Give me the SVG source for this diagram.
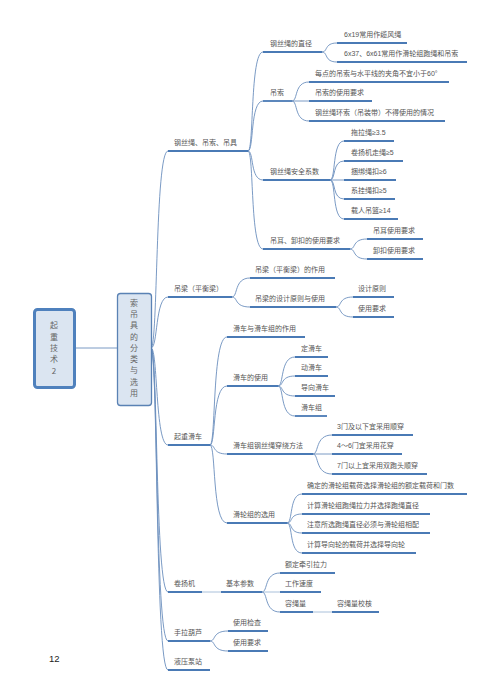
<svg xmlns="http://www.w3.org/2000/svg" width="500" height="697" viewBox="0 0 500 697">
<style>
.t{font-family:"Liberation Sans","Noto Sans CJK SC",sans-serif;font-size:7px;fill:#555}
.bt{font-family:"Noto Sans CJK SC",sans-serif;font-size:8px;fill:#666;text-anchor:middle}
.u{stroke:#4a7ab5;stroke-width:1.8;fill:none}
.c{stroke:#6b8fbd;stroke-width:0.9;fill:none}
.s{stroke:#a9c0da;stroke-width:1;fill:none}
</style>
<rect width="500" height="697" fill="#fff"/>
<g id="connectors">
<path class="c" d="M75,348 L117,348"/>
<path class="c" d="M151,348 C158,348 155,151 168,151"/>
<path class="c" d="M151,348 C158,348 155,297 168,297"/>
<path class="c" d="M151,348 C158,348 155,445 168,445"/>
<path class="c" d="M151,348 C158,348 155,592 168,592"/>
<path class="c" d="M151,348 C158,348 155,641 168,641"/>
<path class="c" d="M151,348 C158,348 155,670 168,670"/>
<path class="c" d="M248,151 C254,151 250,52 263,52"/>
<path class="c" d="M248,151 C254,151 250,101 263,101"/>
<path class="c" d="M248,151 C254,151 250,180 263,180"/>
<path class="c" d="M248,151 C254,151 250,249 263,249"/>
<path class="c" d="M322,52 C328,52 324,43 337,43"/>
<path class="c" d="M322,52 C328,52 324,62 337,62"/>
<path class="c" d="M292,101 C298,101 294,82 309,82"/>
<path class="c" d="M292,101 L309,101"/>
<path class="c" d="M292,101 C298,101 294,121 309,121"/>
<path class="c" d="M330,180 C336,180 332,141 344,141"/>
<path class="c" d="M330,180 C336,180 332,161 344,161"/>
<path class="c" d="M330,180 L344,180"/>
<path class="c" d="M330,180 C336,180 332,199 344,199"/>
<path class="c" d="M330,180 C336,180 332,219 344,219"/>
<path class="c" d="M350,249 C356,249 352,239 367,239"/>
<path class="c" d="M350,249 C356,249 352,259 367,259"/>
<path class="c" d="M232,297 C238,297 234,278 250,278"/>
<path class="c" d="M232,297 C238,297 234,307 250,307"/>
<path class="c" d="M336,307 C342,307 338,297 353,297"/>
<path class="c" d="M336,307 C342,307 338,317 353,317"/>
<path class="c" d="M210,445 C216,445 212,337 227,337"/>
<path class="c" d="M210,445 C216,445 212,386 227,386"/>
<path class="c" d="M210,445 C216,445 212,454 227,454"/>
<path class="c" d="M210,445 C216,445 212,523 227,523"/>
<path class="c" d="M278,386 C284,386 280,357 295,357"/>
<path class="c" d="M278,386 C284,386 280,376 295,376"/>
<path class="c" d="M278,386 C284,386 280,396 295,396"/>
<path class="c" d="M278,386 C284,386 280,416 295,416"/>
<path class="c" d="M313,454 C319,454 315,435 332,435"/>
<path class="c" d="M313,454 L332,454"/>
<path class="c" d="M313,454 C319,454 315,474 332,474"/>
<path class="c" d="M287,523 C293,523 289,494 302,494"/>
<path class="c" d="M287,523 C293,523 289,514 302,514"/>
<path class="c" d="M287,523 C293,523 289,533 302,533"/>
<path class="c" d="M287,523 C293,523 289,553 302,553"/>
<path class="s" d="M202,592 L221,592"/>
<path class="c" d="M262,592 C268,592 264,573 280,573"/>
<path class="s" d="M262,592 L280,592"/>
<path class="c" d="M262,592 C268,592 264,612 280,612"/>
<path class="s" d="M313,612 L332,612"/>
<path class="c" d="M210,641 C216,641 212,631 228,631"/>
<path class="c" d="M210,641 C216,641 212,651 228,651"/>
</g>
<g id="root">
<rect x="34.5" y="309.5" width="40" height="78" rx="3" fill="#dbe5f1" stroke="#4f81bd" stroke-width="3"/>
<text class="bt" x="54" y="328">起</text>
<text class="bt" x="54" y="340">重</text>
<text class="bt" x="54" y="351">技</text>
<text class="bt" x="54" y="362">术</text>
<text class="bt" x="54" y="374">2</text>
</g>
<g id="n-main">
<rect x="117.5" y="293.5" width="34" height="112" rx="3" fill="#dbe5f1" stroke="#5a82b4" stroke-width="1.3"/>
<text class="bt" x="134" y="306">索</text>
<text class="bt" x="134" y="317">吊</text>
<text class="bt" x="134" y="328">具</text>
<text class="bt" x="134" y="340">的</text>
<text class="bt" x="134" y="351">分</text>
<text class="bt" x="134" y="362">类</text>
<text class="bt" x="134" y="373">与</text>
<text class="bt" x="134" y="385">选</text>
<text class="bt" x="134" y="396">用</text>
</g>
<g id="n-a"><path class="u" d="M168,151H248"/><text class="t" x="174" y="145">钢丝绳、吊索、吊具</text></g>
<g id="n-a1"><path class="u" d="M263,52H322"/><text class="t" x="270" y="46">钢丝绳的直径</text></g>
<g id="n-a1a"><path class="u" d="M337,43H407"/><text class="t" x="344" y="37">6x19常用作缆风绳</text></g>
<g id="n-a1b"><path class="u" d="M337,62H467"/><text class="t" x="344" y="56">6x37、6x61常用作滑轮组跑绳和吊索</text></g>
<g id="n-a2"><path class="u" d="M263,101H292"/><text class="t" x="270" y="95">吊索</text></g>
<g id="n-a2a"><path class="u" d="M309,82H449"/><text class="t" x="315" y="76">每点的吊索与水平线的夹角不宜小于60°</text></g>
<g id="n-a2b"><path class="u" d="M309,101H372"/><text class="t" x="315" y="95">吊索的使用要求</text></g>
<g id="n-a2c"><path class="u" d="M309,121H445"/><text class="t" x="315" y="115">钢丝绳环索（吊装带）不得使用的情况</text></g>
<g id="n-a3"><path class="u" d="M263,180H330"/><text class="t" x="270" y="174">钢丝绳安全系数</text></g>
<g id="n-a3a"><path class="u" d="M344,141H394"/><text class="t" x="351" y="135">拖拉绳≥3.5</text></g>
<g id="n-a3b"><path class="u" d="M344,161H403"/><text class="t" x="351" y="155">卷扬机走绳≥5</text></g>
<g id="n-a3c"><path class="u" d="M344,180H396"/><text class="t" x="351" y="174">捆绑绳扣≥6</text></g>
<g id="n-a3d"><path class="u" d="M344,199H395"/><text class="t" x="351" y="193">系挂绳扣≥5</text></g>
<g id="n-a3e"><path class="u" d="M344,219H398"/><text class="t" x="351" y="213">载人吊篮≥14</text></g>
<g id="n-a4"><path class="u" d="M263,249H350"/><text class="t" x="270" y="243">吊耳、卸扣的使用要求</text></g>
<g id="n-a4a"><path class="u" d="M367,239H423"/><text class="t" x="373" y="233">吊耳使用要求</text></g>
<g id="n-a4b"><path class="u" d="M367,259H423"/><text class="t" x="373" y="253">卸扣使用要求</text></g>
<g id="n-b"><path class="u" d="M168,297H232"/><text class="t" x="174" y="291">吊梁（平衡梁）</text></g>
<g id="n-b1"><path class="u" d="M250,278H335"/><text class="t" x="255" y="272">吊梁（平衡梁）的作用</text></g>
<g id="n-b2"><path class="u" d="M250,307H336"/><text class="t" x="255" y="301">吊梁的设计原则与使用</text></g>
<g id="n-b2a"><path class="u" d="M353,297H394"/><text class="t" x="358" y="291">设计原则</text></g>
<g id="n-b2b"><path class="u" d="M353,317H394"/><text class="t" x="358" y="311">使用要求</text></g>
<g id="n-c"><path class="u" d="M168,445H210"/><text class="t" x="174" y="439">起重滑车</text></g>
<g id="n-c1"><path class="u" d="M227,337H305"/><text class="t" x="233" y="331">滑车与滑车组的作用</text></g>
<g id="n-c2"><path class="u" d="M227,386H278"/><text class="t" x="233" y="380">滑车的使用</text></g>
<g id="n-c2a"><path class="u" d="M295,357H328"/><text class="t" x="301" y="351">定滑车</text></g>
<g id="n-c2b"><path class="u" d="M295,376H328"/><text class="t" x="301" y="370">动滑车</text></g>
<g id="n-c2c"><path class="u" d="M295,396H335"/><text class="t" x="301" y="390">导向滑车</text></g>
<g id="n-c2d"><path class="u" d="M295,416H327"/><text class="t" x="301" y="410">滑车组</text></g>
<g id="n-c3"><path class="u" d="M227,454H313"/><text class="t" x="233" y="448">滑车组钢丝绳穿绕方法</text></g>
<g id="n-c3a"><path class="u" d="M332,435H413"/><text class="t" x="337" y="429">3门及以下宜采用顺穿</text></g>
<g id="n-c3b"><path class="u" d="M332,454H402"/><text class="t" x="337" y="448">4～6门宜采用花穿</text></g>
<g id="n-c3c"><path class="u" d="M332,474H427"/><text class="t" x="337" y="468">7门以上宜采用双跑头顺穿</text></g>
<g id="n-c4"><path class="u" d="M227,523H287"/><text class="t" x="233" y="517">滑轮组的选用</text></g>
<g id="n-c4a"><path class="u" d="M302,494H467"/><text class="t" x="307" y="488">确定的滑轮组载荷选择滑轮组的额定载荷和门数</text></g>
<g id="n-c4b"><path class="u" d="M302,514H430"/><text class="t" x="307" y="508">计算滑轮组跑绳拉力并选择跑绳直径</text></g>
<g id="n-c4c"><path class="u" d="M302,533H430"/><text class="t" x="307" y="527">注意所选跑绳直径必须与滑轮组相配</text></g>
<g id="n-c4d"><path class="u" d="M302,553H416"/><text class="t" x="307" y="547">计算导向轮的载荷并选择导向轮</text></g>
<g id="n-d"><path class="u" d="M168,592H202"/><text class="t" x="174" y="586">卷扬机</text></g>
<g id="n-d1"><path class="u" d="M221,592H262"/><text class="t" x="226" y="586">基本参数</text></g>
<g id="n-d1a"><path class="u" d="M280,573H335"/><text class="t" x="285" y="567">额定牵引拉力</text></g>
<g id="n-d1b"><path class="u" d="M280,592H321"/><text class="t" x="285" y="586">工作速度</text></g>
<g id="n-d1c"><path class="u" d="M280,612H313"/><text class="t" x="285" y="606">容绳量</text></g>
<g id="n-d1c1"><path class="u" d="M332,612H379"/><text class="t" x="337" y="606">容绳量校核</text></g>
<g id="n-e"><path class="u" d="M168,641H210"/><text class="t" x="174" y="635">手拉葫芦</text></g>
<g id="n-e1"><path class="u" d="M228,631H268"/><text class="t" x="233" y="625">使用检查</text></g>
<g id="n-e2"><path class="u" d="M228,651H268"/><text class="t" x="233" y="645">使用要求</text></g>
<g id="n-f"><path class="u" d="M168,670H210"/><text class="t" x="174" y="664">液压泵站</text></g>
<text x="49" y="662" font-family="Liberation Sans,sans-serif" font-size="9.5" fill="#222">12</text>
</svg>
